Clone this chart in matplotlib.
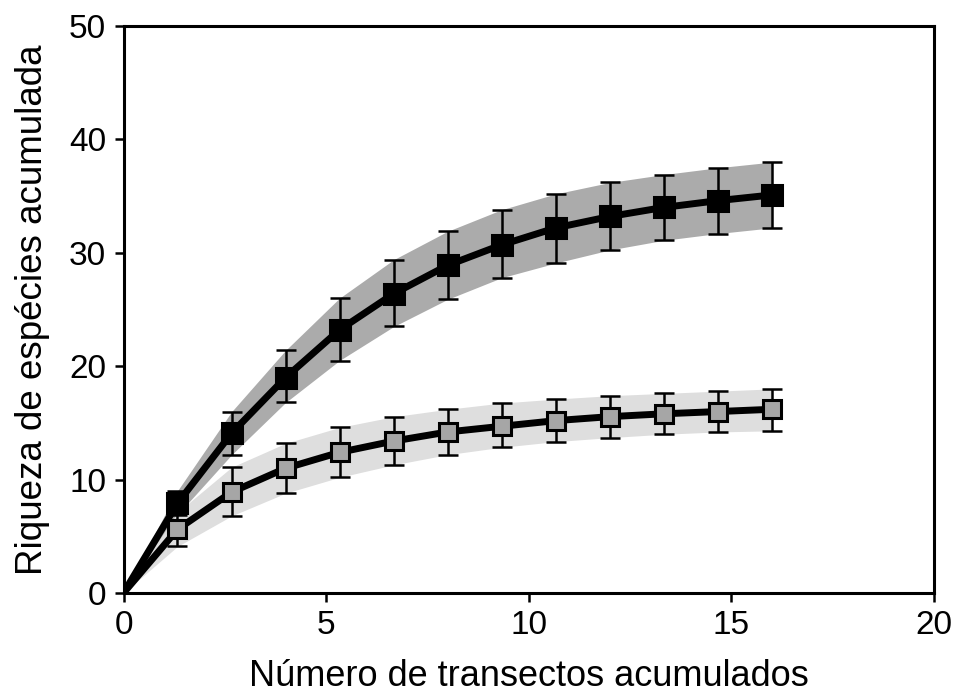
import matplotlib
matplotlib.use('Agg')
import matplotlib.pyplot as plt
import numpy as np

# number of transects (x) and accumulated species (y)
transects = [0, 1.33, 2.67, 4, 5.33, 6.67, 8, 9.33, 10.67, 12, 13.33, 14.67, 16]

black_mean = [0, 7.9, 14.1, 19.0, 23.2, 26.4, 28.9, 30.7, 32.2, 33.2, 34.0, 34.6, 35.1]
black_upper = [0, 9.0, 16.0, 21.4, 26.0, 29.4, 31.9, 33.8, 35.2, 36.2, 36.9, 37.5, 38.0]
black_lower = [0, 6.9, 12.2, 16.8, 20.5, 23.5, 25.9, 27.8, 29.1, 30.25, 31.1, 31.7, 32.2]

grey_mean = [0, 5.6, 8.9, 11.0, 12.4, 13.4, 14.2, 14.7, 15.2, 15.55, 15.8, 16.0, 16.2]
grey_upper = [0, 7.1, 11.1, 13.2, 14.6, 15.55, 16.2, 16.75, 17.1, 17.4, 17.6, 17.8, 18.0]
grey_lower = [0, 4.1, 6.8, 8.8, 10.2, 11.3, 12.2, 12.85, 13.35, 13.7, 14.0, 14.2, 14.3]

plt.rcParams['font.family'] = ['Liberation Sans', 'DejaVu Sans']

fig = plt.figure(figsize=(9.56, 6.95), dpi=100)
ax = fig.add_axes([0.1292, 0.1468, 0.8478, 0.8158])

x = np.array(transects)

def draw_series(mean, upper, lower, band_color, face_color, msize):
    mean = np.array(mean)
    upper = np.array(upper)
    lower = np.array(lower)
    ax.fill_between(x, lower, upper, color=band_color, lw=0, zorder=1)
    ax.plot(x, mean, color='black', lw=5, zorder=3, solid_capstyle='butt')
    ax.errorbar(x[1:], mean[1:], yerr=[mean[1:] - lower[1:], upper[1:] - mean[1:]],
                fmt='none', ecolor='black', elinewidth=1.8, capsize=7, capthick=1.8, zorder=4)
    ax.plot(x[1:], mean[1:], ls='none', marker='s', ms=msize, mfc=face_color,
            mec='black', mew=2.2, zorder=5)

draw_series(black_mean, black_upper, black_lower, '#ababab', 'black', 14)
draw_series(grey_mean, grey_upper, grey_lower, '#dedede', '#a6a6a6', 13)

ax.set_xlim(0, 20)
ax.set_ylim(0, 50)
ax.set_xticks([0, 5, 10, 15, 20])
ax.set_yticks([0, 10, 20, 30, 40, 50])

for s in ax.spines.values():
    s.set_linewidth(2.2)
ax.tick_params(direction='out', length=6.5, width=1.8, labelsize=24, pad=6)

ax.set_xlabel('Número de transectos acumulados', fontsize=26)
ax.xaxis.label.set_va('baseline')
ax.xaxis.set_label_coords(0.5, -0.164)

ax.set_ylabel('Riqueza de espécies acumulada', fontsize=26.5)
ax.yaxis.label.set_va('baseline')
ax.yaxis.set_label_coords(-0.1, 0.5)

fig.savefig('out.png', dpi=100)
